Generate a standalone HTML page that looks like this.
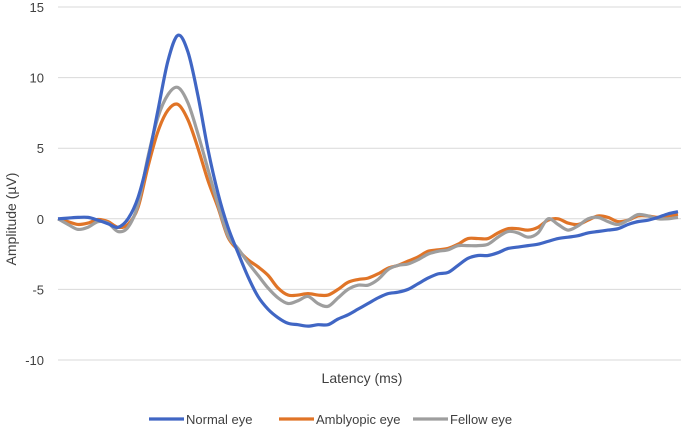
<!DOCTYPE html>
<html><head><meta charset="utf-8"><style>
body{margin:0;background:#fff;width:684px;height:432px;overflow:hidden}
svg text{font-family:"Liberation Sans",sans-serif;fill:#404040}
</style></head><body>
<svg id="c" width="684" height="432"></svg>
<script>
const yTicks=[15,10,5,0,-5,-10];
const latency=[0,10,20,30,40,50,60,70,80,90,100,110,120,130,140,150,160,170,180,190,200,210,220,230,240,250,260,270,280,290,300,310,320,330,340,350,360,370,380,390,400,410,420,430,440,450,460,470,480,490,500,510,520,530,540,550,560,570,580,590,600,610,620];
const normal=[0,0.05,0.1,0.1,-0.1,-0.35,-0.6,0,1.5,4.2,7.7,11.2,13.0,11.8,8.7,4.9,1.8,-0.6,-2.4,-4.1,-5.5,-6.4,-7.0,-7.4,-7.5,-7.6,-7.5,-7.5,-7.1,-6.8,-6.4,-6.0,-5.6,-5.3,-5.2,-5.0,-4.6,-4.2,-3.9,-3.8,-3.3,-2.8,-2.6,-2.6,-2.4,-2.1,-2.0,-1.9,-1.8,-1.6,-1.4,-1.3,-1.2,-1.0,-0.9,-0.8,-0.7,-0.4,-0.2,-0.1,0.1,0.35,0.5];
const amblyopic=[0,-0.2,-0.4,-0.3,-0.05,-0.2,-0.6,-0.4,0.8,3.7,6.2,7.7,8.1,7.0,5.0,2.7,0.8,-1.3,-2.2,-2.9,-3.4,-4.0,-4.9,-5.4,-5.4,-5.3,-5.4,-5.4,-5.0,-4.5,-4.3,-4.2,-3.9,-3.5,-3.3,-3.0,-2.7,-2.3,-2.2,-2.1,-1.8,-1.4,-1.4,-1.4,-1.0,-0.7,-0.7,-0.8,-0.6,-0.1,0.0,-0.3,-0.4,-0.1,0.2,0.1,-0.2,-0.1,0.2,0.2,0.1,0.2,0.3];
const fellow=[0,-0.4,-0.75,-0.6,-0.2,-0.3,-0.9,-0.6,1.0,4.4,7.2,8.8,9.3,8.2,6.0,3.5,1.0,-1.2,-2.1,-3.1,-4.0,-4.9,-5.6,-6.0,-5.8,-5.5,-6.0,-6.2,-5.6,-5.0,-4.7,-4.7,-4.3,-3.6,-3.3,-3.2,-2.9,-2.5,-2.3,-2.2,-1.9,-1.9,-1.9,-1.8,-1.3,-0.9,-1.0,-1.3,-1.0,0.0,-0.4,-0.8,-0.5,0.0,0.1,-0.2,-0.4,-0.1,0.3,0.2,0.0,0.0,0.1];
const ns="http://www.w3.org/2000/svg",svg=document.getElementById('c');
const X0=58,X1=678,Y15=7,Ym10=360;
const xs=v=>X0+(v-latency[0])/(latency[latency.length-1]-latency[0])*(X1-X0);
const ys=v=>Y15+(15-v)/25*(Ym10-Y15);
function mk(t,a){const e=document.createElementNS(ns,t);for(const k in a)e.setAttribute(k,a[k]);svg.appendChild(e);return e;}
yTicks.forEach(t=>{
 const g=mk('line',{x1:X0,x2:681,y1:ys(t),y2:ys(t),stroke:'#d9d9d9','stroke-width':1});
 
 
 const l=mk('text',{x:44,y:ys(t)+5,'text-anchor':'end','font-size':13});
 l.textContent=t;
 
 
});
function path(vals){
 const p=latency.map((x,i)=>[xs(x),ys(vals[i])]);
 let d='M'+p[0][0]+','+p[0][1];
 for(let i=0;i<p.length-1;i++){
  const p0=p[Math.max(0,i-1)],p1=p[i],p2=p[i+1],p3=p[Math.min(p.length-1,i+2)];
  d+=' C'+(p1[0]+(p2[0]-p0[0])/6)+','+(p1[1]+(p2[1]-p0[1])/6)+' '+(p2[0]-(p3[0]-p1[0])/6)+','+(p2[1]-(p3[1]-p1[1])/6)+' '+p2[0]+','+p2[1];
 }
 return d;
}
const series=[[amblyopic,'#e07427','amblyopic-eye-line'],[fellow,'#9e9e9e','fellow-eye-line'],[normal,'#4066c4','normal-eye-line']];
series.forEach(s=>{
 const e=mk('path',{d:path(s[0]),fill:'none',stroke:s[1],'stroke-width':3.2,'stroke-linejoin':'round'});
 
 
});
</script>
<svg width="684" height="432" style="position:absolute;left:0;top:0">
<text x="362" y="383" text-anchor="middle" font-size="14">Latency (ms)</text>
<text transform="translate(16,219) rotate(-90)" text-anchor="middle" font-size="14">Amplitude (µV)</text>
<g font-size="13">
<line x1="149" x2="184" y1="419" y2="419" stroke="#4066c4" stroke-width="3.2"/>
<text x="186" y="424">Normal eye</text>
<line x1="279" x2="314" y1="419" y2="419" stroke="#e07427" stroke-width="3.2"/>
<text x="316" y="424">Amblyopic eye</text>
<line x1="413" x2="448" y1="419" y2="419" stroke="#9e9e9e" stroke-width="3.2"/>
<text x="450" y="424">Fellow eye</text>
</g>
</svg>
</body></html>
